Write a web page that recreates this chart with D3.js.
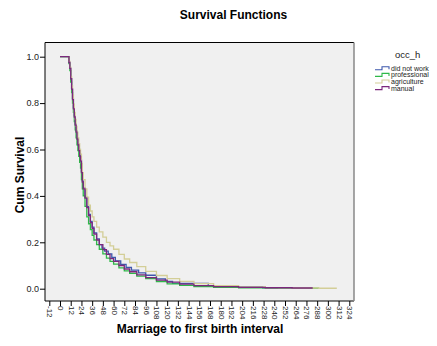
<!DOCTYPE html>
<html><head><meta charset="utf-8">
<script src="https://cdn.jsdelivr.net/npm/d3@7"></script>
<style>body{margin:0;background:#fff}svg{display:block;font-family:"Liberation Sans",Arial,sans-serif}</style>
</head><body>
<svg id="c" width="437" height="346"></svg>
<script>
const seriesNames = ["did not work", "professional", "agriculture", "manual"];
const seriesColors = ["#3E58AC", "#2EB848", "#D3CE97", "#7C287D"];
const xTicks = d3.range(-12, 325, 12);
const yTicks = [0, 0.2, 0.4, 0.6, 0.8, 1.0];

const tDidNotWork = [0,10,11,12,13,14,15,16,17,18,19,20,21,22,23,24,25,26,28,30,32,34,36,38,41,44,47,50,54,58,62,68,74,80,88,96,108,118,126,166,188,227,244];
const sDidNotWork = [1,0.975,0.95,0.905,0.86,0.82,0.78,0.745,0.71,0.68,0.65,0.625,0.6,0.575,0.555,0.505,0.465,0.435,0.395,0.355,0.32,0.29,0.265,0.24,0.215,0.19,0.175,0.162,0.15,0.135,0.12,0.105,0.092,0.08,0.068,0.058,0.042,0.032,0.023,0.013,0.009,0.004,0.004];

const tProfessional = [0,10,11,12,13,14,15,16,17,18,19,20,21,22,23,24,25,26,28,30,32,34,36,38,41,44,48,52,56,60,66,72,78,86,96,108,120,134,150,172,200,230,260,290];
const sProfessional = [1,0.97,0.94,0.89,0.845,0.8,0.76,0.72,0.685,0.65,0.62,0.595,0.57,0.545,0.52,0.47,0.43,0.4,0.355,0.31,0.28,0.255,0.23,0.21,0.19,0.17,0.15,0.132,0.118,0.106,0.09,0.077,0.066,0.054,0.043,0.031,0.021,0.014,0.009,0.006,0.004,0.003,0.002,0.002];

const tAgriculture = [0,10,11,12,13,14,15,16,17,18,19,20,21,22,23,24,25,26,28,30,32,34,36,38,41,44,48,52,56,60,66,72,78,86,96,108,120,134,150,172,200,230,260,290,310];
const sAgriculture = [1,0.98,0.955,0.915,0.875,0.835,0.795,0.76,0.73,0.7,0.675,0.65,0.625,0.6,0.58,0.54,0.5,0.47,0.43,0.395,0.36,0.335,0.31,0.29,0.265,0.245,0.222,0.2,0.185,0.17,0.148,0.128,0.113,0.095,0.075,0.057,0.043,0.032,0.022,0.013,0.008,0.005,0.003,0.002,0.002];

const tManual = [0,10,11,12,13,14,15,16,17,18,19,20,21,22,23,24,25,26,28,30,32,34,36,38,41,44,48,52,56,60,66,72,78,86,96,108,120,134,150,172,200,230,260,283];
const sManual = [1,0.975,0.95,0.905,0.86,0.815,0.775,0.74,0.705,0.675,0.645,0.62,0.595,0.57,0.55,0.5,0.46,0.43,0.39,0.35,0.315,0.285,0.26,0.235,0.21,0.19,0.168,0.148,0.13,0.118,0.1,0.085,0.073,0.06,0.048,0.037,0.028,0.02,0.013,0.009,0.006,0.004,0.003,0.003];

const allT = [tDidNotWork, tProfessional, tAgriculture, tManual];
const allS = [sDidNotWork, sProfessional, sAgriculture, sManual];

const svg = d3.select("#c");
const frame = {l:45, r:354, t:42.5, b:301};
const x = d3.scaleLinear().domain([-12, 324]).range([49.3, 349.3]);
const y = d3.scaleLinear().domain([0, 1]).range([288.7, 56.7]);

svg.append("rect").attr("x", frame.l).attr("y", frame.t).attr("width", frame.r-frame.l).attr("height", frame.b-frame.t).attr("fill", "#F0F0F0");

// series
const line = d3.line().curve(d3.curveStepAfter).x(d => x(d[0])).y(d => y(d[1]));
allT.forEach((ts, i) => {
  const pts = ts.map((t, j) => [t, allS[i][j]]);
  svg.append("path").attr("d", line(pts)).attr("fill", "none")
    .attr("stroke", seriesColors[i]).attr("stroke-width", 1.3);
});

// frame
svg.append("line").attr("x1", frame.l).attr("x2", frame.r).attr("y1", frame.t).attr("y2", frame.t).attr("stroke", "#000");
svg.append("line").attr("x1", frame.l).attr("x2", frame.l).attr("y1", frame.t).attr("y2", frame.b).attr("stroke", "#000");
svg.append("line").attr("x1", frame.l).attr("x2", frame.r).attr("y1", frame.b).attr("y2", frame.b).attr("stroke", "#000");
svg.append("line").attr("x1", frame.r).attr("x2", frame.r).attr("y1", frame.t).attr("y2", frame.b).attr("stroke", "#888").attr("stroke-width", 1.5);

// y axis
const yAxis = d3.axisLeft(y).tickValues(yTicks).tickFormat(d3.format(".1f")).tickSize(5).tickSizeOuter(0);
const gy = svg.append("g").attr("transform", `translate(${frame.l},0)`).call(yAxis);
gy.select(".domain").remove();
gy.selectAll("text").attr("font-size", 9).attr("fill", "#222").attr("font-family", "Liberation Sans, Arial, sans-serif").attr("x", -6);

// x axis
const xAxis = d3.axisBottom(x).tickValues(xTicks).tickFormat(d => String(d)).tickSize(5).tickSizeOuter(0);
const gx = svg.append("g").attr("transform", `translate(0,${frame.b})`).call(xAxis);
gx.select(".domain").remove();
gx.selectAll("text").attr("font-size", 8).attr("fill", "#222").attr("font-family", "Liberation Sans, Arial, sans-serif")
  .attr("transform", "rotate(90)").attr("text-anchor", "start").attr("x", 5).attr("y", 0).attr("dy", "0.32em");

// titles
svg.append("text").attr("x", 233.5).attr("y", 19).attr("text-anchor", "middle").attr("font-size", 12).attr("font-weight", "bold").text("Survival Functions");
svg.append("text").attr("transform", "translate(24,175) rotate(-90)").attr("text-anchor", "middle").attr("font-size", 12).attr("font-weight", "bold").text("Cum Survival");
svg.append("text").attr("x", 200).attr("y", 333).attr("text-anchor", "middle").attr("font-size", 12).attr("font-weight", "bold").text("Marriage to first birth interval");

// legend
const lg = svg.append("g");
lg.append("text").attr("x", 395).attr("y", 58).attr("font-size", 9.5).attr("fill", "#222").text("occ_h");
seriesNames.forEach((n, i) => {
  const yy = 68.3 + i * 6.6;
  lg.append("path").attr("d", `M375,${yy+1.5}H382V${yy-1.5}H389V${yy+1}`).attr("fill", "none").attr("stroke", seriesColors[i]).attr("stroke-width", 1.1);
  lg.append("text").attr("x", 391).attr("y", yy + 2.5).attr("font-size", 7).attr("fill", "#222").text(n);
});
</script>
</body></html>
